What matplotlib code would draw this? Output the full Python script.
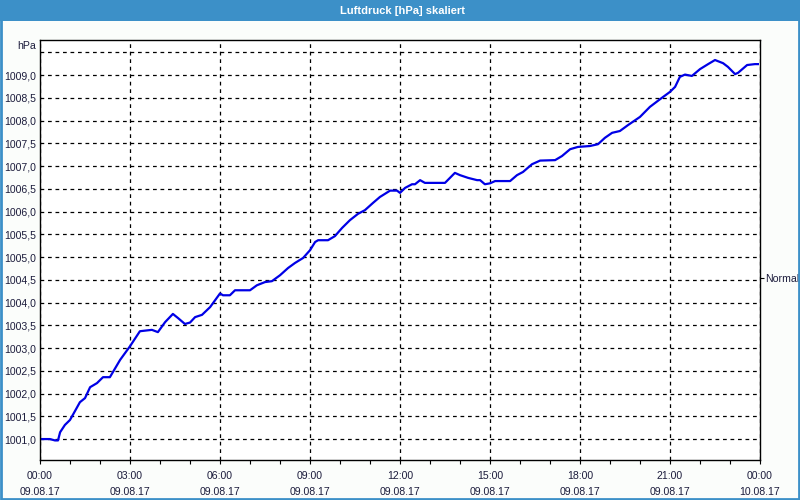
import matplotlib
matplotlib.use("Agg")
import matplotlib.pyplot as plt
import matplotlib.dates as mdates
from matplotlib.patches import Rectangle
from matplotlib.ticker import FixedLocator, FuncFormatter
import pandas as pd

plt.rcParams["font.family"] = ["Liberation Sans", "DejaVu Sans"]

# Messwerte: Stunden ab 09.08.17 00:00 und Luftdruck in hPa
hours = [0.0, 0.33, 0.5, 0.6, 0.67, 0.83, 1.0, 1.17, 1.33, 1.5, 1.67, 1.9, 2.1, 2.33,
         2.67, 3.0, 3.33, 3.73, 3.93, 4.17, 4.43, 4.6, 4.83, 5.0, 5.17, 5.4, 5.67, 6.0,
         6.1, 6.33, 6.5, 7.0, 7.23, 7.5, 7.73, 8.0, 8.27, 8.5, 8.77, 9.0, 9.17, 9.27,
         9.6, 9.83, 10.07, 10.33, 10.6, 10.83, 11.1, 11.33, 11.67, 11.9, 12.0, 12.17,
         12.4, 12.5, 12.67, 12.83, 13.5, 13.83, 14.0, 14.27, 14.57, 14.67, 14.83, 15.0,
         15.17, 15.67, 15.9, 16.1, 16.4, 16.67, 17.17, 17.4, 17.67, 17.93, 18.33, 18.6,
         18.83, 19.07, 19.33, 19.6, 20.0, 20.33, 20.67, 21.0, 21.17, 21.33, 21.5, 21.73,
         22.0, 22.27, 22.5, 22.77, 22.93, 23.17, 23.27, 23.57, 23.83, 23.93]
pressure = [1001.00, 1001.00, 1000.97, 1000.97, 1001.15, 1001.31, 1001.42, 1001.62,
            1001.81, 1001.90, 1002.14, 1002.23, 1002.36, 1002.36, 1002.74, 1003.04,
            1003.37, 1003.40, 1003.35, 1003.57, 1003.75, 1003.66, 1003.53, 1003.56,
            1003.68, 1003.73, 1003.90, 1004.20, 1004.16, 1004.16, 1004.27, 1004.27,
            1004.38, 1004.45, 1004.47, 1004.60, 1004.76, 1004.87, 1004.98, 1005.15,
            1005.33, 1005.37, 1005.37, 1005.46, 1005.64, 1005.81, 1005.95, 1006.03,
            1006.19, 1006.32, 1006.46, 1006.46, 1006.41, 1006.52, 1006.60, 1006.60,
            1006.69, 1006.63, 1006.63, 1006.85, 1006.80, 1006.74, 1006.69, 1006.69,
            1006.60, 1006.62, 1006.67, 1006.67, 1006.80, 1006.87, 1007.04, 1007.12,
            1007.13, 1007.22, 1007.37, 1007.42, 1007.44, 1007.48, 1007.62, 1007.73,
            1007.77, 1007.90, 1008.08, 1008.30, 1008.47, 1008.63, 1008.74, 1008.96,
            1009.01, 1008.98, 1009.13, 1009.24, 1009.33, 1009.26, 1009.18, 1009.02,
            1009.05, 1009.22, 1009.24, 1009.24]
normal_value = 1004.55
y_ticks = [1001.0, 1001.5, 1002.0, 1002.5, 1003.0, 1003.5, 1004.0, 1004.5, 1005.0,
           1005.5, 1006.0, 1006.5, 1007.0, 1007.5, 1008.0, 1008.5, 1009.0, 1009.5]
title = "Luftdruck [hPa] skaliert"

start = pd.Timestamp("2017-08-09 00:00")
times = start + pd.to_timedelta(hours, unit="h")

bar_blue = "#3c90c8"
txt_col = "#1c1c3c"
fs = 7.6

fig = plt.figure(figsize=(8, 5), dpi=100, facecolor="#fbfdfb")
# Titelleiste und Rahmen
fig.patches.append(Rectangle((0, 0.958), 1, 0.042, transform=fig.transFigure,
                             facecolor=bar_blue, edgecolor="none"))
fig.patches.append(Rectangle((0.001, 0.002), 0.998, 0.996, transform=fig.transFigure,
                             facecolor="none", edgecolor=bar_blue, linewidth=2))
fig.text(0.503, 0.979, title, color="white", fontsize=8, fontweight="bold",
         ha="center", va="center")

ax = fig.add_axes([0.05, 0.08, 0.9, 0.84])
ax.set_facecolor("white")
ax.plot(times, pressure, color="#0000e6", linewidth=1.6)

ax.set_xlim(start, start + pd.Timedelta(hours=24))
ax.set_ylim(1000.54, 1009.77)

ax.xaxis.set_major_locator(mdates.HourLocator(interval=3))
ax.xaxis.set_minor_locator(mdates.HourLocator(interval=1))
ax.xaxis.set_major_formatter(mdates.DateFormatter("%H:%M\n%d.%m.%y"))
ax.yaxis.set_major_locator(FixedLocator(y_ticks))
ax.yaxis.set_major_formatter(FuncFormatter(
    lambda v, p: "" if v > 1009.2 else ("%.1f" % v).replace(".", ",")))

ax.grid(True, which="major", color="black", linestyle=(0, (3, 3)), linewidth=0.9)
ax.tick_params(axis="x", which="both", direction="out", length=3, width=0.8,
               labelsize=fs, labelcolor=txt_col, pad=5)
ax.tick_params(axis="y", length=0, labelsize=fs, labelcolor=txt_col, pad=3)
for lbl in ax.get_xticklabels():
    lbl.set_linespacing(1.75)
for s in ax.spines.values():
    s.set_color("black")
    s.set_linewidth(1)

ax.text(-0.005, 1 - 6 / 420, "hPa", transform=ax.transAxes, ha="right", va="center",
        fontsize=fs, color=txt_col)

ax2 = ax.twinx()
ax2.set_ylim(ax.get_ylim())
ax2.set_yticks([normal_value])
ax2.set_yticklabels(["Normal"])
ax2.tick_params(axis="y", direction="out", length=3, width=0.8, labelsize=fs,
                labelcolor=txt_col, pad=1)
for s in ax2.spines.values():
    s.set_visible(False)

fig.savefig("out.png", dpi=100, facecolor=fig.get_facecolor())
